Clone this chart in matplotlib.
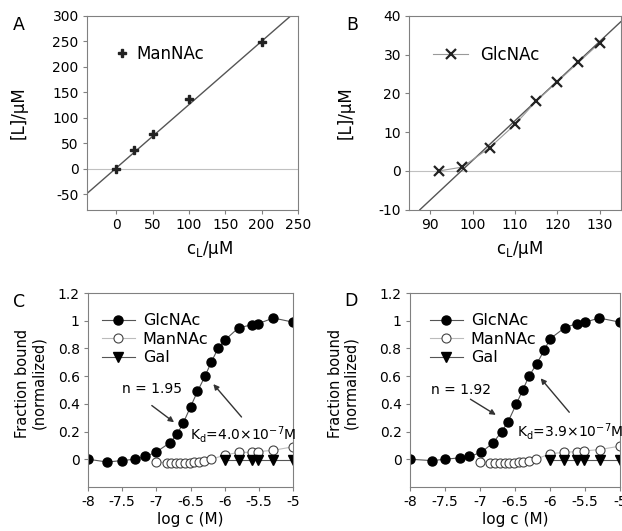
import matplotlib
matplotlib.use('Agg')
import matplotlib.pyplot as plt
import numpy as np

plt.rcParams['font.family'] = ['DejaVu Sans']
plt.rcParams['font.size'] = 10
plt.rcParams['mathtext.default'] = 'regular'
plt.rcParams['axes.unicode_minus'] = False

# panel A: ManNAc
a_c = [0, 25, 50, 100, 200]
a_L = [0, 37, 68, 138, 248]
a_fit_x = [-40, 240]
a_fit_y = [-48, 300]

# panel B: GlcNAc
b_c = [92, 97.5, 104, 110, 115, 120, 125, 130]
b_L = [0, 1, 6, 12, 18, 23, 28, 33]
b_fit_x = [87.5, 135]
b_fit_y = [-10, 38.5]

# panel C
c_glc_x = [-8, -7.72, -7.51, -7.32, -7.16, -7.01, -6.8, -6.7, -6.61, -6.5,
           -6.4, -6.29, -6.2, -6.1, -6.0, -5.8, -5.61, -5.51, -5.29, -5.0]
c_glc_y = [0, -0.02, -0.01, 0, 0.02, 0.05, 0.12, 0.18, 0.26, 0.38,
           0.49, 0.6, 0.7, 0.8, 0.86, 0.95, 0.97, 0.98, 1.02, 0.99]
c_man_x = [-7.0, -6.85, -6.78, -6.71, -6.65, -6.58, -6.51, -6.45, -6.38, -6.3,
           -6.2, -6.0, -5.8, -5.61, -5.51, -5.29, -5.0]
c_man_y = [-0.02, -0.025, -0.025, -0.025, -0.025, -0.025, -0.025, -0.02, -0.02, -0.01,
           0.0, 0.03, 0.05, 0.05, 0.055, 0.065, 0.09]
c_gal_x = [-6.0, -5.8, -5.61, -5.51, -5.29, -5.0]
c_gal_y = [-0.005, -0.005, -0.005, -0.005, -0.005, -0.005]

# panel D
d_glc_x = [-8, -7.68, -7.5, -7.29, -7.15, -6.98, -6.81, -6.69, -6.6, -6.48,
           -6.39, -6.3, -6.19, -6.08, -6.0, -5.79, -5.62, -5.5, -5.3, -5.0]
d_glc_y = [0, -0.01, 0, 0.01, 0.02, 0.05, 0.12, 0.2, 0.27, 0.4,
           0.5, 0.6, 0.69, 0.79, 0.87, 0.95, 0.98, 0.99, 1.02, 0.99]
d_man_x = c_man_x
d_man_y = [-0.02, -0.025, -0.025, -0.025, -0.025, -0.025, -0.025, -0.02, -0.02, -0.01,
           0.0, 0.04, 0.05, 0.055, 0.06, 0.07, 0.095]
d_gal_x = c_gal_x
d_gal_y = c_gal_y

spine_col = '#808080'
line_col = '#555555'

fig = plt.figure(figsize=(6.22, 5.31), dpi=100)
axA = fig.add_axes([0.140, 0.605, 0.339, 0.365])
axB = fig.add_axes([0.658, 0.605, 0.340, 0.365])
axC = fig.add_axes([0.1415, 0.083, 0.330, 0.365])
axD = fig.add_axes([0.659, 0.083, 0.338, 0.365])

for ax in (axA, axB, axC, axD):
    for s in ax.spines.values():
        s.set_color(spine_col)
    ax.tick_params(direction='out', length=3, color=spine_col, labelsize=10, pad=3)

# A
axA.axhline(0, color='#c0c0c0', lw=0.8)
axA.plot(a_fit_x, a_fit_y, color=line_col, lw=1)
axA.plot(a_c, a_L, ls='none', marker='P', ms=6, color='#222222', label='ManNAc')
axA.set_xlim(-40, 250)
axA.set_ylim(-80, 300)
axA.set_xticks([0, 50, 100, 150, 200, 250])
axA.set_yticks([-50, 0, 50, 100, 150, 200, 250, 300])
axA.set_xlabel('c$_L$/μM', fontsize=12, va='top')
axA.set_ylabel('[L]/μM', fontsize=12)
axA.xaxis.set_label_coords(0.58, -0.15)
axA.yaxis.set_label_coords(-0.284, 0.5)
axA.legend(loc='upper left', bbox_to_anchor=(0.133, 0.85), frameon=False,
           handlelength=0.8, handletextpad=0.5, borderpad=0, borderaxespad=0,
           fontsize=12)

# B
axB.axhline(0, color='#c0c0c0', lw=0.8)
axB.plot(b_fit_x, b_fit_y, color=line_col, lw=1)
axB.plot(b_c, b_L, color='#999999', lw=0.8, marker='x', ms=7, mew=1.6,
         mec='#222222', label='GlcNAc')
axB.set_xlim(85, 135)
axB.set_ylim(-10, 40)
axB.set_xticks([90, 100, 110, 120, 130])
axB.set_yticks([-10, 0, 10, 20, 30, 40])
axB.set_xlabel('c$_L$/μM', fontsize=12, va='top')
axB.set_ylabel('[L]/μM', fontsize=12)
axB.xaxis.set_label_coords(0.52, -0.15)
axB.yaxis.set_label_coords(-0.259, 0.5)
axB.legend(loc='upper left', bbox_to_anchor=(0.113, 0.845), frameon=False,
           handlelength=2.1, handletextpad=0.7, borderpad=0, borderaxespad=0,
           fontsize=12)


def binding(ax, gx, gy, mx, my, tx, ty, ylab_x, leg_x, n_text, n_pos, n_arrow,
            kd_text, kd_pos, kd_arrow):
    ax.plot(gx, gy, color=line_col, lw=0.8, marker='o', ms=6.5, mfc='black',
            mec='black', label='GlcNAc')
    ax.plot(mx, my, color='#bbbbbb', lw=0.8, marker='o', ms=6.5, mfc='white',
            mec='#444444', mew=0.8, label='ManNAc')
    ax.plot(tx, ty, color=line_col, lw=0.8, marker='v', ms=6.5, mfc='black',
            mec='black', label='Gal')
    ax.set_xlim(-8, -5)
    ax.set_ylim(-0.2, 1.2)
    ax.set_xticks([-8, -7.5, -7, -6.5, -6, -5.5, -5])
    ax.set_xticklabels(['-8', '-7.5', '-7', '-6.5', '-6', '-5.5', '-5'])
    ax.set_yticks([0, 0.2, 0.4, 0.6, 0.8, 1, 1.2])
    ax.set_yticklabels(['0', '0.2', '0.4', '0.6', '0.8', '1', '1.2'])
    ax.set_xlabel('log c (M)', fontsize=11, va='top')
    ax.set_ylabel('Fraction bound\n(normalized)', fontsize=10.5, linespacing=1.05)
    ax.xaxis.set_label_coords(0.5, -0.13)
    ax.yaxis.set_label_coords(ylab_x, 0.536)
    ax.legend(loc='upper left', bbox_to_anchor=(leg_x, 0.895), frameon=False,
              handlelength=2.06, handletextpad=0.5, borderpad=0, borderaxespad=0,
              labelspacing=0.22, fontsize=11.5)
    ax.text(n_pos[0], n_pos[1], n_text, fontsize=10, va='center')
    ax.annotate('', xy=n_arrow[1], xytext=n_arrow[0],
                arrowprops=dict(arrowstyle='-|>', color='#333333', lw=1,
                                mutation_scale=8))
    ax.text(kd_pos[0], kd_pos[1], kd_text, fontsize=10, va='center')
    ax.annotate('', xy=kd_arrow[1], xytext=kd_arrow[0],
                arrowprops=dict(arrowstyle='-|>', color='#333333', lw=1,
                                mutation_scale=8))


binding(axC, c_glc_x, c_glc_y, c_man_x, c_man_y, c_gal_x, c_gal_y, -0.205, 0.068,
        'n = 1.95', (-7.51, 0.51), ((-7.10, 0.40), (-6.71, 0.255)),
        'K$_d$=4.0×10$^{-7}$M', (-6.51, 0.18), ((-5.73, 0.29), (-6.195, 0.558)))
binding(axD, d_glc_x, d_glc_y, d_man_x, d_man_y, d_gal_x, d_gal_y, -0.246, 0.095,
        'n = 1.92', (-7.70, 0.50), ((-7.17, 0.444), (-6.74, 0.31)),
        'K$_d$=3.9×10$^{-7}$M', (-6.47, 0.20), ((-5.70, 0.324), (-6.16, 0.60)))

fig.text(19 / 622, 1 - 25 / 531, 'A', fontsize=12.5, ha='center', va='center')
fig.text(352 / 622, 1 - 25 / 531, 'B', fontsize=12.5, ha='center', va='center')
fig.text(19 / 622, 1 - 302 / 531, 'C', fontsize=12.5, ha='center', va='center')
fig.text(351 / 622, 1 - 301 / 531, 'D', fontsize=12.5, ha='center', va='center')

fig.savefig('out.png', dpi=100)
